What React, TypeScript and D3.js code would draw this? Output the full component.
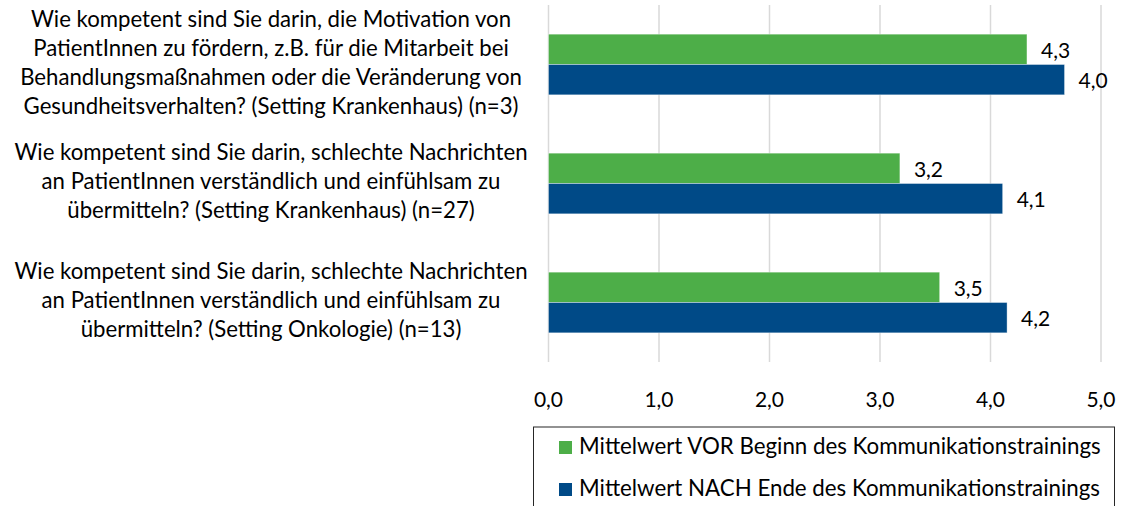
import React from 'react';
import * as d3 from 'd3';

// categories (wrapped as in the original), series and values
const categories = ['motivation', 'nachrichtenKH', 'nachrichtenOnko'];
const categoryLines = [
  [
    'Wie kompetent sind Sie darin, die Motivation von',
    'PatientInnen zu fördern, z.B. für die Mitarbeit bei',
    'Behandlungsmaßnahmen oder die Veränderung von',
    'Gesundheitsverhalten? (Setting Krankenhaus) (n=3)',
  ],
  [
    'Wie kompetent sind Sie darin, schlechte Nachrichten',
    'an PatientInnen verständlich und einfühlsam zu',
    'übermitteln? (Setting Krankenhaus) (n=27)',
  ],
  [
    'Wie kompetent sind Sie darin, schlechte Nachrichten',
    'an PatientInnen verständlich und einfühlsam zu',
    'übermitteln? (Setting Onkologie) (n=13)',
  ],
];
const seriesNames = [
  'Mittelwert VOR Beginn des Kommunikationstrainings',
  'Mittelwert NACH Ende des Kommunikationstrainings',
];
const seriesColors = ['#4DAE48', '#004A87'];
const vorValues = [4.33, 3.18, 3.54];
const nachValues = [4.67, 4.11, 4.15];
// data labels as printed in the source chart
const vorLabels = ['4,3', '3,2', '3,5'];
const nachLabels = ['4,0', '4,1', '4,2'];
const xTicks = [0, 1, 2, 3, 4, 5];

const width = 1124;
const height = 506;
const margin = { top: 5, left: 548.5, right: 23, bottomPlot: 362 };
const font = 'Lato, "Open Sans", sans-serif';

const deFormat = d3
  .formatLocale({ decimal: ',', thousands: '.', grouping: [3], currency: ['', '€'] })
  .format('.1f');

export default function App() {
  const x = d3.scaleLinear().domain([0, 5]).range([margin.left, width - margin.right]);
  const y0 = d3
    .scaleBand<string>()
    .domain(categories)
    .range([margin.top, margin.bottomPlot])
    .paddingInner(0.49)
    .paddingOuter(0.245);
  const y1 = d3.scaleBand<number>().domain([0, 1]).range([0, y0.bandwidth()]);

  const series = [
    { values: vorValues, labels: vorLabels },
    { values: nachValues, labels: nachLabels },
  ];
  const lineHeight = 29;

  return (
    <svg
      width={width}
      height={height}
      style={{ position: 'absolute', left: 0, top: 0, background: '#fff' }}
      fontFamily={font}
    >
      {/* vertical gridlines */}
      <g>
        {xTicks.map((t) => (
          <line
            key={t}
            x1={x(t)}
            x2={x(t)}
            y1={margin.top}
            y2={margin.bottomPlot}
            stroke="#D9D9D9"
            strokeWidth={1.5}
          />
        ))}
      </g>

      {/* bars */}
      {categories.map((c, ci) => (
        <g key={c} transform={`translate(0,${y0(c)})`}>
          {series.map((s, si) => (
            <g key={si}>
              <rect
                x={x(0)}
                y={y1(si)}
                width={x(s.values[ci]) - x(0)}
                height={y1.bandwidth()}
                fill={seriesColors[si]}
                stroke="#fff"
                strokeOpacity={0.5}
                strokeWidth={0.75}
              />
              <text
                x={x(s.values[ci]) + 14}
                y={(y1(si) ?? 0) + y1.bandwidth() / 2 + 3}
                dominantBaseline="middle"
                fontSize={21}
                fill="#000"
              >
                {s.labels[ci]}
              </text>
            </g>
          ))}
        </g>
      ))}

      {/* category labels */}
      {categories.map((c, ci) => {
        const lines = categoryLines[ci];
        const cy = (y0(c) ?? 0) + y0.bandwidth() / 2;
        const start = cy - ((lines.length - 1) * lineHeight) / 2;
        return (
          <text key={c} textAnchor="middle" fontSize={22.2} fill="#000">
            {lines.map((l, li) => (
              <tspan key={li} x={271} y={start + li * lineHeight} dominantBaseline="middle">
                {l}
              </tspan>
            ))}
          </text>
        );
      })}

      {/* x tick labels */}
      {xTicks.map((t) => (
        <text
          key={t}
          x={x(t)}
          y={402}
          textAnchor="middle"
          dominantBaseline="middle"
          fontSize={21}
          fill="#000"
        >
          {deFormat(t)}
        </text>
      ))}

      {/* legend */}
      <g>
        <rect x={533.5} y={427} width={581} height={100} fill="none" stroke="#262626" strokeWidth={1} />
        {seriesNames.map((name, i) => (
          <g key={name} transform={`translate(559,${447.5 + i * 42})`}>
            <rect x={0} y={-6.5} width={13} height={13} fill={seriesColors[i]} />
            <text x={20} y={1} dominantBaseline="middle" fontSize={22.3} fill="#000">
              {name}
            </text>
          </g>
        ))}
      </g>
    </svg>
  );
}
